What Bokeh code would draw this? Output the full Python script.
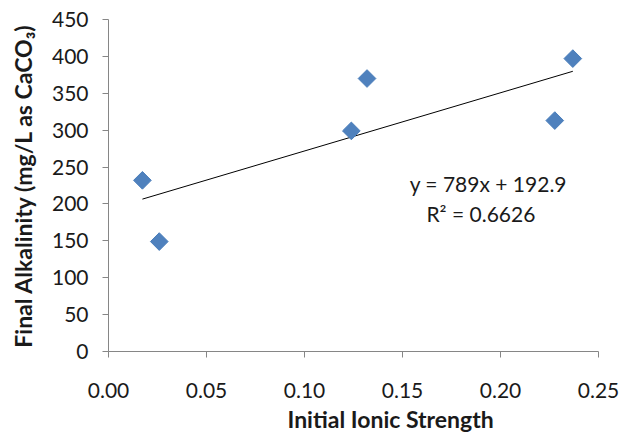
import math
from bokeh.plotting import figure
from bokeh.models import Range1d, FixedTicker, NumeralTickFormatter, Label, Title
from bokeh.embed import file_html
from bokeh.resources import INLINE

# Data
ionic_strength = [0.0173, 0.0259, 0.1239, 0.1319, 0.2277, 0.2369]
final_alkalinity = [232, 149, 299, 370, 313, 397]

# Linear trendline shown on the chart
trend_slope = 789
trend_intercept = 192.9
trend_r2 = 0.6626

x_ticks = [0.00, 0.05, 0.10, 0.15, 0.20, 0.25]
y_ticks = [0, 50, 100, 150, 200, 250, 300, 350, 400, 450]

FONT = "Lato"
TXT = "#1a1a1a"
AXC = "#868686"

p = figure(width=621, height=434, output_backend="svg", toolbar_location=None,
           x_range=Range1d(0, 0.25), y_range=Range1d(0, 450),
           min_border_left=108, min_border_right=23, min_border_top=19, min_border_bottom=83)
p.outline_line_color = None
p.xgrid.grid_line_color = None
p.ygrid.grid_line_color = None
p.background_fill_color = "white"
p.border_fill_color = "white"

for ax in (p.xaxis[0], p.yaxis[0]):
    ax.axis_line_color = AXC
    ax.major_tick_line_color = AXC
    ax.major_tick_in = 0
    ax.major_tick_out = 6
    ax.minor_tick_line_color = None
    ax.major_label_text_font = FONT
    ax.major_label_text_font_size = "21px"
    ax.major_label_text_color = TXT

p.xaxis.ticker = FixedTicker(ticks=x_ticks)
p.xaxis.formatter = NumeralTickFormatter(format="0.00")
p.xaxis.major_label_standoff = 25
p.yaxis.ticker = FixedTicker(ticks=y_ticks)
p.yaxis.formatter = NumeralTickFormatter(format="0")
p.yaxis.major_label_standoff = 14

p.yaxis.axis_label = "Final Alkalinity (mg/L as CaCO\u2083)"
p.yaxis.axis_label_text_font = FONT
p.yaxis.axis_label_text_font_style = "bold"
p.yaxis.axis_label_text_font_size = "23px"
p.yaxis.axis_label_text_color = TXT
p.yaxis.axis_label_standoff = 12

# X axis title (offset to the right as in the reference)
p.add_layout(Title(text="Initial Ionic Strength", align="left", offset=179,
                   text_font=FONT, text_font_style="bold", text_font_size="23px",
                   text_color=TXT, standoff=4), "below")

# Trendline
tx = [min(ionic_strength), max(ionic_strength)]
ty = [trend_slope * v + trend_intercept for v in tx]
p.line(tx, ty, line_color="black", line_width=1)

# Points
p.scatter(ionic_strength, final_alkalinity, marker="square", size=12.5, angle=math.pi / 4,
          fill_color="#4F81BD", line_color="#4A7EBB", line_width=1)

# Equation texts
p.add_layout(Label(x=0.1938, y=228, text=f"y = {trend_slope}x + {trend_intercept}",
                   text_align="center", text_baseline="middle", text_font=FONT,
                   text_font_size="21px", text_color=TXT))
p.add_layout(Label(x=0.190, y=187, text=f"R\u00b2 = {trend_r2}",
                   text_align="center", text_baseline="middle", text_font=FONT,
                   text_font_size="21px", text_color=TXT))

open("out.html", "w").write(file_html(p, INLINE))
